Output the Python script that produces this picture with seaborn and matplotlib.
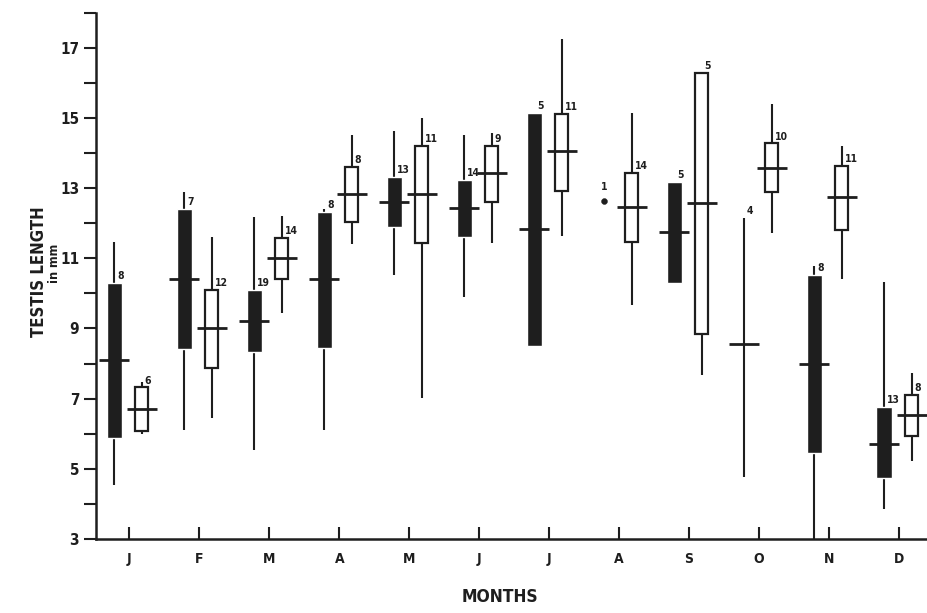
import numpy as np
import pandas as pd
import matplotlib
matplotlib.use("Agg")
import matplotlib.pyplot as plt
import seaborn as sns

# Monthly testis length (mm): filled = first group, open = second group
months = ["J", "F", "M", "A", "M", "J", "J", "A", "S", "O", "N", "D"]

black_n = [8, 7, 19, 8, 13, 14, 5, 1, 5, 4, 8, 13]
black_mean = [8.10, 10.40, 9.21, 10.40, 12.59, 12.42, 11.82, 12.64, 11.76, 8.55, 7.99, 5.72]
black_lo = [5.87, 8.40, 8.32, 8.45, 11.88, 11.61, 8.50, np.nan, 10.30, np.nan, 5.46, 4.74]
black_hi = [10.30, 12.40, 10.09, 12.33, 13.32, 13.23, 15.13, np.nan, 13.17, np.nan, 10.52, 6.76]
black_min = [4.55, 6.10, 5.54, 6.11, 10.52, 9.90, 8.50, np.nan, 10.30, 4.78, 3.0, 3.86]
black_max = [11.45, 12.90, 12.18, 12.40, 14.62, 14.51, 15.13, np.nan, 13.17, 12.14, 10.78, 10.31]

white_n = [6, 12, 14, 8, 11, 9, 11, 14, 5, 10, 11, 8]
white_mean = [6.69, 9.00, 11.00, 12.83, 12.83, 13.44, 14.05, 12.45, 12.58, 13.58, 12.73, 6.53]
white_lo = [6.07, 7.88, 10.41, 12.04, 11.44, 12.61, 12.92, 11.47, 8.85, 12.90, 11.81, 5.94]
white_hi = [7.32, 10.09, 11.58, 13.61, 14.20, 14.20, 15.11, 13.44, 16.28, 14.27, 13.63, 7.11]
white_min = [6.00, 6.44, 9.43, 11.40, 7.01, 11.44, 11.63, 9.67, 7.67, 11.71, 10.42, 5.23]
white_max = [7.48, 11.60, 12.20, 14.51, 15.00, 14.56, 17.24, 15.15, 16.28, 15.38, 14.20, 7.72]

ink = "#1e1e1e"
px = 1 / 70  # one pixel in x data units

sns.set_style("ticks")
plt.rcParams["font.family"] = ["Liberation Sans Narrow", "DejaVu Sans"]
plt.rcParams["font.stretch"] = "condensed"
plt.rcParams["axes.edgecolor"] = ink

fig, ax = plt.subplots(figsize=(9.27, 6.13), dpi=100)
fig.subplots_adjust(left=0.1036, right=1.0, bottom=0.1207, top=0.9796)

x = np.arange(len(months))
xb = x - 15 * px
xw = x + 12.5 * px

# filled series
ax.vlines(xb, black_min, black_max, color=ink, lw=1.5, zorder=2)
ax.bar(xb, np.array(black_hi) - np.array(black_lo), bottom=black_lo,
       width=0.215, color=ink, zorder=3)

# open series
ax.vlines(xw, white_min, white_max, color=ink, lw=1.5, zorder=2)
ax.bar(xw, np.array(white_hi) - np.array(white_lo), bottom=white_lo,
       width=0.19, facecolor="white", edgecolor=ink, lw=1.6, zorder=3)

# means
df = pd.DataFrame({
    "x": np.concatenate([xb, xw]),
    "mean": black_mean + white_mean,
    "n": black_n + white_n,
})
ticks_df = df[df["n"] > 1]
single_df = df[df["n"] == 1]
sns.scatterplot(data=ticks_df, x="x", y="mean", marker="_", s=21 ** 2,
                linewidth=2.0, color=ink, legend=False, ax=ax, zorder=4)
sns.scatterplot(data=single_df, x="x", y="mean", marker="o", s=18,
                color=ink, edgecolor=ink, legend=False, ax=ax, zorder=4)

# sample sizes
def label_n(xs, ns, means, los, his, maxs):
    for xi, n, m, lo, hi, mx in zip(xs, ns, means, los, his, maxs):
        if n == 1:
            ax.text(xi, m + 0.25, str(n), ha="center", va="bottom",
                    fontsize=7.5, fontweight="bold", color=ink)
            continue
        top = hi if not np.isnan(hi) else mx
        ax.text(xi + 3 * px, top + 0.05, str(n), ha="left", va="bottom",
                fontsize=7.5, fontweight="bold", color=ink)

label_n(xb, black_n, black_mean, black_lo, black_hi, black_max)
label_n(xw, white_n, white_mean, white_lo, white_hi, white_max)

# axes
ax.set_xlim(-0.476, 11.4)
ax.set_ylim(3, 18)
ax.set_xticks(x)
ax.set_xticklabels(months)
yt = list(range(3, 19))
ax.set_yticks(yt)
ax.set_yticklabels([str(v) if v % 2 == 1 else "" for v in yt])
ax.tick_params(axis="y", direction="out", length=8.6, width=1.5, pad=3.5,
               labelsize=11, colors=ink)
ax.tick_params(axis="x", direction="in", length=9, width=1.5, pad=9,
               labelsize=10, colors=ink)
for lbl in ax.get_xticklabels() + ax.get_yticklabels():
    lbl.set_fontweight("bold")
sns.despine(ax=ax)
for side in ["left", "bottom"]:
    ax.spines[side].set_linewidth(1.8)
ax.set_xlabel("")
ax.set_ylabel("")

fig.text(39 / 927, 1 - 272 / 613, "TESTIS LENGTH", rotation=90, ha="center",
         va="center", fontsize=12, fontweight="bold", color=ink)
fig.text(55 / 927, 1 - 263 / 613, "in mm", rotation=90, ha="center",
         va="center", fontsize=9, fontweight="bold", color=ink)
fig.text(500 / 927, 1 - 597 / 613, "MONTHS", ha="center", va="center",
         fontsize=12.5, fontweight="bold", color=ink)

fig.savefig("out.png", dpi=100)
